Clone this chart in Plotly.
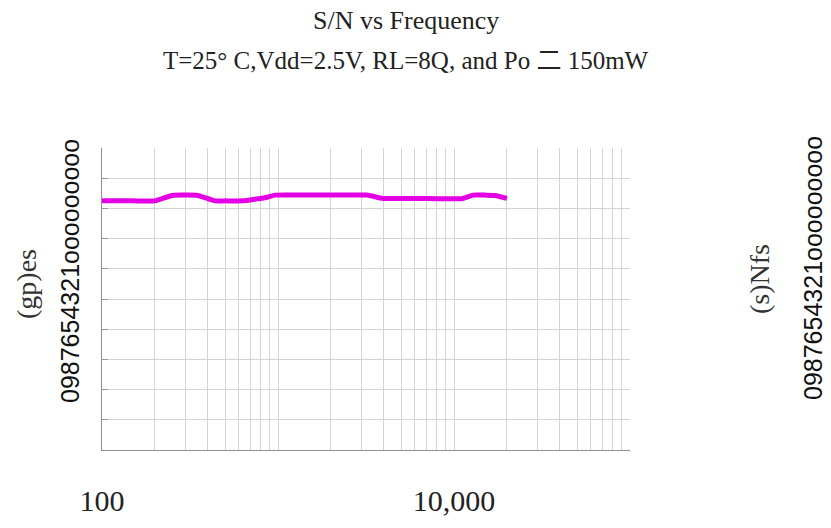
import plotly.graph_objects as go

# ---- data ----
freq_hz = [100, 150, 200, 250, 300, 350, 440, 500, 630, 750, 870, 960, 1500,
           2000, 3200, 3950, 6000, 11200, 12800, 15000, 17100, 20000]
sn_db = [82.5, 82.5, 82.5, 84.3, 84.4, 84.3, 82.5, 82.5, 82.5, 83.1, 83.7, 84.4,
         84.4, 84.4, 84.4, 83.3, 83.3, 83.3, 84.4, 84.4, 84.3, 83.3]

x_grid = [100, 200, 300, 400, 500, 600, 700, 800, 900,
          1000, 2000, 3000, 4000, 5000, 6000, 7000, 8000, 9000,
          10000, 20000, 30000, 40000, 50000, 60000, 70000, 80000, 90000, 100000]
x_labels = {100: "100", 10000: "10,000"}
y_ticks = [0, 10, 20, 30, 40, 50, 60, 70, 80, 90, 100]

title_text = "S/N vs Frequency"
subtitle_text = "T=25° C,Vdd=2.5V, RL=8Q, and Po 二 150mW"
left_title = "(gp)es"
left_ticks = "0987654321ooooooooo"
right_title = "(s)Nfs"
right_ticks = "0987654321ooooooooo"

# ---- figure ----
W, H = 831, 528
L, R, T, B = 102, 201, 148, 78
pw, ph = W - L - R, H - T - B


def px(xp):
    return (xp - L) / pw


def py(yp):
    return (H - B - yp) / ph


fig = go.Figure()
fig.add_trace(go.Scatter(
    x=freq_hz, y=sn_db, mode="lines",
    line=dict(color="rgb(228,0,228)", width=5, shape="spline", smoothing=0.5),
    showlegend=False, hoverinfo="skip",
))

serif = "Liberation Serif, Noto Sans CJK SC, serif"
sans = "Liberation Sans, Arial, sans-serif"

fig.update_layout(
    width=W, height=H,
    margin=dict(l=L, r=R, t=T, b=B, pad=0, autoexpand=False),
    paper_bgcolor="white", plot_bgcolor="white",
    showlegend=False,
    xaxis=dict(
        type="log", range=[2, 5], automargin=False,
        tickmode="array", tickvals=x_grid,
        ticktext=[x_labels.get(v, "") for v in x_grid],
        showgrid=True, gridcolor="#d4d4d4", gridwidth=1,
        showline=True, linecolor="#8f8f8f", linewidth=1,
        ticks="", zeroline=False,
        tickfont=dict(family=serif, size=30, color="#222"),
        ticklabelstandoff=24,
    ),
    yaxis=dict(
        range=[0, 100], tickmode="array", tickvals=y_ticks, automargin=False,
        showticklabels=False,
        showgrid=True, gridcolor="#d4d4d4", gridwidth=1,
        showline=True, linecolor="#8f8f8f", linewidth=1,
        ticks="inside", ticklen=6, tickcolor="#999",
        zeroline=False,
    ),
)

annos = [
    dict(text=title_text, x=px(406), y=py(21), font=dict(family=serif, size=26, color="#222")),
    dict(text=subtitle_text, x=px(406), y=py(61), font=dict(family=serif, size=25, color="#222")),
    dict(text=left_title, x=px(26), y=py(284), textangle=-90, font=dict(family=serif, size=28, color="#333")),
    dict(text=left_ticks, x=px(70), y=py(271), textangle=-90, font=dict(family=sans, size=25, color="#111")),
    dict(text=right_title, x=px(759), y=py(279), textangle=-90, font=dict(family=serif, size=28, color="#333")),
    dict(text=right_ticks, x=px(813), y=py(268), textangle=-90, font=dict(family=sans, size=25, color="#111")),
]
for a in annos:
    fig.add_annotation(xref="paper", yref="paper", showarrow=False,
                       xanchor="center", yanchor="middle", **a)

fig.write_html("out.html")
